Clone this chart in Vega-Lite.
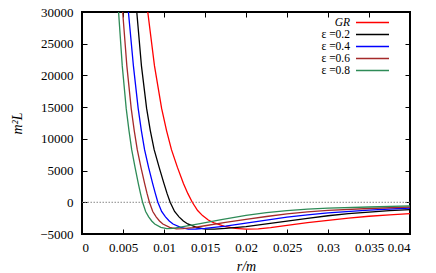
{
  "$schema": "https://vega.github.io/schema/vega-lite/v6.json",
  "width": 328,
  "height": 222,
  "autosize": {"type": "none"},
  "padding": {"left": 82, "top": 12, "right": 26, "bottom": 39},
  "background": "white",
  "config": {
    "view": {"stroke": "black", "strokeWidth": 2},
    "font": "Liberation Serif",
    "axis": {
      "domain": false, "grid": false, "tickColor": "black", "tickSize": -5, "tickWidth": 1,
      "labelFont": "Liberation Serif", "labelFontSize": 13, "labelColor": "black",
      "titleFont": "Liberation Serif", "titleFontSize": 14, "titleFontStyle": "italic",
      "titleFontWeight": "normal", "titleColor": "black"
    },
    "legend": {
      "symbolType": "M-3,0H3", "symbolSize": 121, "rowPadding": 0,
      "labelOffset": -29, "labelAlign": "right", "symbolStrokeWidth": 1.5,
      "labelFontSize": 11.5, "labelFont": "Liberation Serif", "labelColor": "black", "padding": 0
    }
  },
  "datasets": {
    "curves": [
      {"s": "GR", "r": 0.00745, "L": 37000}, {"s": "GR", "r": 0.00802, "L": 30000}, {"s": "GR", "r": 0.00884, "L": 21500},
      {"s": "GR", "r": 0.00971, "L": 14800}, {"s": "GR", "r": 0.01031, "L": 11300}, {"s": "GR", "r": 0.01091, "L": 8300},
      {"s": "GR", "r": 0.01164, "L": 5500}, {"s": "GR", "r": 0.01237, "L": 2950}, {"s": "GR", "r": 0.0129, "L": 1400},
      {"s": "GR", "r": 0.01345, "L": 0}, {"s": "GR", "r": 0.0141, "L": -1300}, {"s": "GR", "r": 0.0147, "L": -2100},
      {"s": "GR", "r": 0.0154, "L": -2800}, {"s": "GR", "r": 0.0161, "L": -3250}, {"s": "GR", "r": 0.0174, "L": -3800},
      {"s": "GR", "r": 0.0187, "L": -4100}, {"s": "GR", "r": 0.02, "L": -4220}, {"s": "GR", "r": 0.0215, "L": -4200},
      {"s": "GR", "r": 0.023, "L": -4000}, {"s": "GR", "r": 0.025, "L": -3650}, {"s": "GR", "r": 0.0275, "L": -3220},
      {"s": "GR", "r": 0.03, "L": -2850}, {"s": "GR", "r": 0.0325, "L": -2500}, {"s": "GR", "r": 0.035, "L": -2200},
      {"s": "GR", "r": 0.0375, "L": -1980}, {"s": "GR", "r": 0.04, "L": -1790},

      {"s": "ε =0.2", "r": 0.00625, "L": 37000}, {"s": "ε =0.2", "r": 0.00668, "L": 30000}, {"s": "ε =0.2", "r": 0.00725, "L": 21500},
      {"s": "ε =0.2", "r": 0.00788, "L": 14800}, {"s": "ε =0.2", "r": 0.00833, "L": 11300}, {"s": "ε =0.2", "r": 0.0088, "L": 8300},
      {"s": "ε =0.2", "r": 0.00941, "L": 5500}, {"s": "ε =0.2", "r": 0.01, "L": 2950}, {"s": "ε =0.2", "r": 0.01037, "L": 1400},
      {"s": "ε =0.2", "r": 0.01075, "L": 0}, {"s": "ε =0.2", "r": 0.01129, "L": -1450}, {"s": "ε =0.2", "r": 0.01183, "L": -2300},
      {"s": "ε =0.2", "r": 0.01236, "L": -2950}, {"s": "ε =0.2", "r": 0.0129, "L": -3420}, {"s": "ε =0.2", "r": 0.01398, "L": -3950},
      {"s": "ε =0.2", "r": 0.01505, "L": -4230}, {"s": "ε =0.2", "r": 0.01613, "L": -4240}, {"s": "ε =0.2", "r": 0.0175, "L": -4120},
      {"s": "ε =0.2", "r": 0.02, "L": -3850}, {"s": "ε =0.2", "r": 0.0225, "L": -3420}, {"s": "ε =0.2", "r": 0.025, "L": -2970},
      {"s": "ε =0.2", "r": 0.0275, "L": -2520}, {"s": "ε =0.2", "r": 0.03, "L": -2120}, {"s": "ε =0.2", "r": 0.0325, "L": -1800},
      {"s": "ε =0.2", "r": 0.035, "L": -1540}, {"s": "ε =0.2", "r": 0.0375, "L": -1330}, {"s": "ε =0.2", "r": 0.04, "L": -1150},

      {"s": "ε =0.4", "r": 0.00525, "L": 37000}, {"s": "ε =0.4", "r": 0.00566, "L": 30000}, {"s": "ε =0.4", "r": 0.00627, "L": 21500},
      {"s": "ε =0.4", "r": 0.00685, "L": 14800}, {"s": "ε =0.4", "r": 0.00724, "L": 11300}, {"s": "ε =0.4", "r": 0.00763, "L": 8300},
      {"s": "ε =0.4", "r": 0.00812, "L": 5500}, {"s": "ε =0.4", "r": 0.00862, "L": 2950}, {"s": "ε =0.4", "r": 0.00894, "L": 1400},
      {"s": "ε =0.4", "r": 0.00925, "L": 0}, {"s": "ε =0.4", "r": 0.00971, "L": -1450}, {"s": "ε =0.4", "r": 0.01018, "L": -2300},
      {"s": "ε =0.4", "r": 0.01064, "L": -2950}, {"s": "ε =0.4", "r": 0.0111, "L": -3420}, {"s": "ε =0.4", "r": 0.01203, "L": -3950},
      {"s": "ε =0.4", "r": 0.01295, "L": -4220}, {"s": "ε =0.4", "r": 0.01388, "L": -4210}, {"s": "ε =0.4", "r": 0.015, "L": -4120},
      {"s": "ε =0.4", "r": 0.0175, "L": -3750}, {"s": "ε =0.4", "r": 0.02, "L": -3280}, {"s": "ε =0.4", "r": 0.0225, "L": -2800},
      {"s": "ε =0.4", "r": 0.025, "L": -2350}, {"s": "ε =0.4", "r": 0.0275, "L": -1970}, {"s": "ε =0.4", "r": 0.03, "L": -1660},
      {"s": "ε =0.4", "r": 0.035, "L": -1250}, {"s": "ε =0.4", "r": 0.04, "L": -900},

      {"s": "ε =0.6", "r": 0.0046, "L": 37000}, {"s": "ε =0.6", "r": 0.00496, "L": 30000}, {"s": "ε =0.6", "r": 0.00547, "L": 21500},
      {"s": "ε =0.6", "r": 0.006, "L": 14800}, {"s": "ε =0.6", "r": 0.00637, "L": 11300}, {"s": "ε =0.6", "r": 0.00674, "L": 8300},
      {"s": "ε =0.6", "r": 0.00719, "L": 5500}, {"s": "ε =0.6", "r": 0.00764, "L": 2950}, {"s": "ε =0.6", "r": 0.00793, "L": 1400},
      {"s": "ε =0.6", "r": 0.00822, "L": 0}, {"s": "ε =0.6", "r": 0.00863, "L": -1450}, {"s": "ε =0.6", "r": 0.00904, "L": -2300},
      {"s": "ε =0.6", "r": 0.00945, "L": -2950}, {"s": "ε =0.6", "r": 0.00986, "L": -3420}, {"s": "ε =0.6", "r": 0.01069, "L": -3950},
      {"s": "ε =0.6", "r": 0.01151, "L": -4180}, {"s": "ε =0.6", "r": 0.01233, "L": -4160}, {"s": "ε =0.6", "r": 0.0135, "L": -3980},
      {"s": "ε =0.6", "r": 0.015, "L": -3700}, {"s": "ε =0.6", "r": 0.0175, "L": -3180}, {"s": "ε =0.6", "r": 0.02, "L": -2700},
      {"s": "ε =0.6", "r": 0.0225, "L": -2240}, {"s": "ε =0.6", "r": 0.025, "L": -1830}, {"s": "ε =0.6", "r": 0.0275, "L": -1510},
      {"s": "ε =0.6", "r": 0.03, "L": -1270}, {"s": "ε =0.6", "r": 0.035, "L": -980}, {"s": "ε =0.6", "r": 0.04, "L": -740},

      {"s": "ε =0.8", "r": 0.00414, "L": 37000}, {"s": "ε =0.8", "r": 0.00446, "L": 30000}, {"s": "ε =0.8", "r": 0.00491, "L": 21500},
      {"s": "ε =0.8", "r": 0.00539, "L": 14800}, {"s": "ε =0.8", "r": 0.00573, "L": 11300}, {"s": "ε =0.8", "r": 0.00606, "L": 8300},
      {"s": "ε =0.8", "r": 0.00647, "L": 5500}, {"s": "ε =0.8", "r": 0.00687, "L": 2950}, {"s": "ε =0.8", "r": 0.00713, "L": 1400},
      {"s": "ε =0.8", "r": 0.00739, "L": 0}, {"s": "ε =0.8", "r": 0.00776, "L": -1450}, {"s": "ε =0.8", "r": 0.00813, "L": -2300},
      {"s": "ε =0.8", "r": 0.0085, "L": -2950}, {"s": "ε =0.8", "r": 0.00887, "L": -3420}, {"s": "ε =0.8", "r": 0.00961, "L": -3950},
      {"s": "ε =0.8", "r": 0.01035, "L": -4150}, {"s": "ε =0.8", "r": 0.01109, "L": -4120}, {"s": "ε =0.8", "r": 0.0125, "L": -3800},
      {"s": "ε =0.8", "r": 0.0144, "L": -3350}, {"s": "ε =0.8", "r": 0.017, "L": -2750}, {"s": "ε =0.8", "r": 0.02, "L": -2080},
      {"s": "ε =0.8", "r": 0.0225, "L": -1640}, {"s": "ε =0.8", "r": 0.025, "L": -1300}, {"s": "ε =0.8", "r": 0.0275, "L": -1080},
      {"s": "ε =0.8", "r": 0.03, "L": -920}, {"s": "ε =0.8", "r": 0.035, "L": -740}, {"s": "ε =0.8", "r": 0.04, "L": -580}
    ]
  },
  "layer": [
    {
      "data": {"values": [{"z": 0}]},
      "mark": {"type": "rule", "strokeDash": [1.5, 1.5], "color": "#888888", "strokeWidth": 1},
      "encoding": {
        "y": {"field": "z", "type": "quantitative", "scale": {"domain": [-5000, 30000], "nice": false}, "axis": null}
      }
    },
    {
      "data": {"name": "curves"},
      "mark": {"type": "line", "clip": true, "strokeWidth": 1.3},
      "encoding": {
        "x": {
          "field": "r", "type": "quantitative",
          "scale": {"domain": [0, 0.04], "nice": false, "zero": false},
          "axis": {"orient": "bottom", "values": [0, 0.005, 0.01, 0.015, 0.02, 0.025, 0.03, 0.035, 0.04], "format": "~g", "labelPadding": 12, "title": "r/m", "titlePadding": 5}
        },
        "y": {
          "field": "L", "type": "quantitative",
          "scale": {"domain": [-5000, 30000], "nice": false},
          "axis": {"orient": "left", "values": [-5000, 0, 5000, 10000, 15000, 20000, 25000, 30000], "format": "d", "labelPadding": 14, "title": "m²L", "titlePadding": 15}
        },
        "color": {
          "field": "s", "type": "nominal",
          "scale": {"domain": ["GR", "ε =0.2", "ε =0.4", "ε =0.6", "ε =0.8"], "range": ["#ff0000", "#000000", "#0000ff", "#a52a2a", "#2e8b57"]},
          "legend": {
            "title": null, "orient": "none", "legendX": 284, "legendY": 4,
            "encode": {"labels": {"update": {"fontStyle": {"signal": "datum.label === 'GR' ? 'italic' : 'normal'"}}}}
          }
        }
      }
    },
    {
      "data": {"name": "curves"},
      "mark": {"type": "line", "opacity": 0, "clip": true},
      "encoding": {
        "x": {
          "field": "r", "type": "quantitative",
          "scale": {"domain": [0, 0.04], "nice": false, "zero": false},
          "axis": {"orient": "top", "values": [0, 0.005, 0.01, 0.015, 0.02, 0.025, 0.03, 0.035, 0.04], "labels": false, "title": null}
        },
        "y": {
          "field": "L", "type": "quantitative",
          "scale": {"domain": [-5000, 30000], "nice": false},
          "axis": {"orient": "right", "values": [-5000, 0, 5000, 10000, 15000, 20000, 25000, 30000], "labels": false, "title": null}
        }
      }
    }
  ],
  "resolve": {"axis": {"x": "independent", "y": "independent"}}
}
